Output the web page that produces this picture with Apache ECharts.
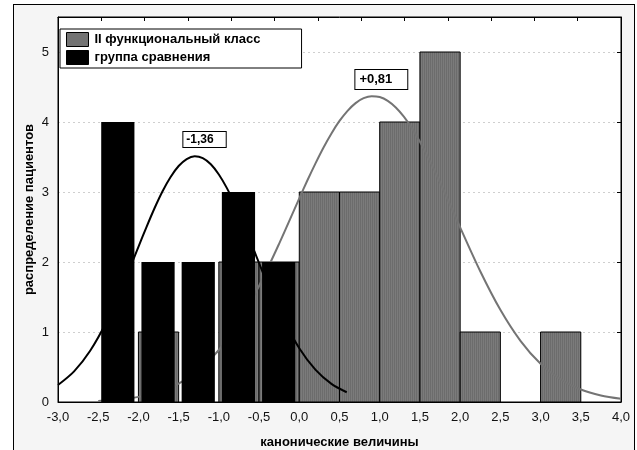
<!DOCTYPE html>
<html>
<head>
<meta charset="utf-8">
<script src="https://cdn.jsdelivr.net/npm/echarts@6/dist/echarts.min.js"></script>
<style>
  html, body { margin: 0; padding: 0; background: #ffffff; width: 637px; height: 450px; overflow: hidden; }
  #frame { position: absolute; left: 13px; top: 4px; width: 622px; height: 446px;
           border: 1px solid #000; border-bottom: none; background: #f5f5f5; box-sizing: border-box; }
  #chart { position: absolute; left: 0; top: 0; width: 637px; height: 450px; }
</style>
</head>
<body>
<div id="frame"></div>
<div id="chart"></div>
<script>
// Histogram bins (left edge of each 0.5-wide bin) and patient counts
const binWidth = 0.5;
const classIIBins = [-2.0, -1.0, -0.5, 0.0, 0.5, 1.0, 1.5, 2.0, 3.0];
const classIICounts = [1, 2, 2, 3, 3, 4, 5, 1, 1];
const compBins = [-2.5, -2.0, -1.5, -1.0, -0.5];
const compCounts = [4, 2, 2, 3, 2];

// Fitted normal curves (expected counts per bin)
const classIICurveX = [-2.5, -2.25, -2.0, -1.75, -1.5, -1.25, -1.0, -0.75, -0.5, -0.25,
                       0.0, 0.1, 0.2, 0.3, 0.4, 0.5, 0.6, 0.7, 0.8, 0.9, 1.0, 1.1, 1.2, 1.3, 1.4, 1.5, 1.6,
                       1.75, 2.0, 2.25, 2.5, 2.75, 3.0, 3.25, 3.5, 3.75, 4.0];
const classIICurveY = [0.016, 0.035, 0.073, 0.142, 0.262, 0.455, 0.743, 1.144, 1.658, 2.263,
                       2.910, 3.164, 3.406, 3.633, 3.837, 4.015, 4.160, 4.270, 4.340, 4.369, 4.357, 4.303, 4.208, 4.077, 3.912, 3.718, 3.499,
                       3.139, 2.495, 1.868, 1.317, 0.874, 0.546, 0.322, 0.178, 0.093, 0.046];
const compCurveX = [-3.0, -2.8, -2.6, -2.4, -2.2, -2.0, -1.9, -1.8, -1.7, -1.6, -1.5, -1.4, -1.3, -1.2, -1.1,
                    -1.0, -0.9, -0.8, -0.7, -0.6, -0.4, -0.2, 0.0, 0.2, 0.4, 0.59];
const compCurveY = [0.243, 0.438, 0.733, 1.140, 1.648, 2.216, 2.499, 2.768, 3.011, 3.215, 3.371, 3.471, 3.510, 3.484, 3.396,
                    3.250, 3.055, 2.819, 2.554, 2.273, 1.703, 1.186, 0.768, 0.462, 0.259, 0.139];

// Group means shown on the chart
const classIIMean = '+0,81';
const compMean = '-1,36';

const seriesNames = ['II функциональный класс', 'группа сравнения'];
const xTitle = 'канонические величины';
const yTitle = 'распределение пациентов';

function zip(a, b) { return a.map((v, i) => [v, b[i]]); }

// Fine vertical hatch used for the grey bars
function hatch() {
  const c = document.createElement('canvas');
  c.width = 2; c.height = 4;
  const g = c.getContext('2d');
  g.fillStyle = '#6c6c6c'; g.fillRect(0, 0, 1, 4);
  g.fillStyle = '#7b7b7b'; g.fillRect(1, 0, 1, 4);
  return { image: c, repeat: 'repeat' };
}
const greyFill = hatch();

function barRenderer(insetL, insetR) {
  return function (params, api) {
    const x0 = api.value(0), h = api.value(1);
    const pTop = api.coord([x0, h]);
    const pEnd = api.coord([x0 + binWidth, 0]);
    return {
      type: 'rect',
      shape: { x: pTop[0] + insetL, y: pTop[1], width: pEnd[0] - pTop[0] - insetL - insetR, height: pEnd[1] - pTop[1] },
      style: api.style()
    };
  };
}

const FONT = '"Liberation Sans", Arial, sans-serif';
const chart = echarts.init(document.getElementById('chart'), null, { renderer: 'canvas', width: 637, height: 450 });

chart.setOption({
  animation: false,
  textStyle: { fontFamily: FONT },
  grid: { left: 58, right: 16, top: 17, bottom: 48, containLabel: false, outerBoundsMode: 'none',
          show: true, backgroundColor: '#ffffff', borderColor: '#000', borderWidth: 1 },
  legend: {
    left: 60, top: 29, orient: 'vertical', selectedMode: false,
    backgroundColor: '#ffffff', borderColor: '#000', borderWidth: 1,
    padding: [3, 41, 3, 6], itemGap: 3, itemWidth: 22, itemHeight: 14,
    textStyle: { fontFamily: FONT, fontWeight: 'bold', fontSize: 13, color: '#000', padding: [0, 0, 0, 1] },
    data: [
      { name: seriesNames[0], icon: 'rect', itemStyle: { color: greyFill, borderColor: '#000', borderWidth: 1 } },
      { name: seriesNames[1], icon: 'rect', itemStyle: { color: '#000', borderColor: '#000', borderWidth: 1 } }
    ]
  },
  xAxis: [
    {
      type: 'value', position: 'bottom', min: -3, max: 4, interval: 0.5,
      axisLine: { onZero: false, lineStyle: { color: '#000', width: 1 } },
      axisTick: { show: false },
      splitLine: { show: false },
      axisLabel: { margin: 9, fontSize: 13, color: '#111', fontFamily: FONT,
                   formatter: v => v.toFixed(1).replace('.', ',') },
      name: xTitle, nameLocation: 'middle', nameGap: 34, nameMoveOverlap: false,
      nameTextStyle: { fontFamily: FONT, fontWeight: 'bold', fontSize: 13, color: '#000' }
    },
    {
      type: 'value', position: 'top', min: 0, max: 13, interval: 1,
      axisLine: { onZero: false, lineStyle: { color: '#000', width: 1 } },
      axisTick: { inside: true, length: 4, lineStyle: { color: '#000' } },
      axisLabel: { show: false }, splitLine: { show: false }
    }
  ],
  yAxis: [
    {
      type: 'value', position: 'left', min: 0, max: 5.5, interval: 1,
      axisLine: { show: true, onZero: false, lineStyle: { color: '#000', width: 1 } },
      axisTick: { show: false },
      axisLabel: { margin: 9, fontSize: 13, color: '#111', fontFamily: FONT, showMaxLabel: false },
      splitLine: { show: true, lineStyle: { color: '#cfcfcf', type: [2, 3], width: 1 } },
      name: yTitle, nameLocation: 'middle', nameGap: 22, nameMoveOverlap: false,
      nameTextStyle: { fontFamily: FONT, fontWeight: 'bold', fontSize: 13, color: '#000' }
    },
    {
      type: 'value', position: 'right', min: 0, max: 5.5, interval: 1,
      axisLine: { show: true, onZero: false, lineStyle: { color: '#000', width: 1 } },
      axisTick: { show: true, inside: true, length: 4, lineStyle: { color: '#000' } },
      axisLabel: { show: false }, splitLine: { show: false }
    }
  ],
  series: [
    {
      name: seriesNames[0], type: 'custom', z: 1,
      xAxisIndex: 0, yAxisIndex: 0,
      renderItem: barRenderer(0, 0),
      itemStyle: { color: greyFill, borderColor: '#000', borderWidth: 1 },
      encode: { x: 0, y: 1 },
      data: zip(classIIBins, classIICounts)
    },
    {
      type: 'line', z: 2, smooth: 0.3, symbol: 'none',
      xAxisIndex: 0, yAxisIndex: 0,
      lineStyle: { color: '#747474', width: 2 },
      data: zip(classIICurveX, classIICurveY),
      markPoint: {
        symbol: 'rect', symbolSize: 0,
        label: { show: true, position: 'inside', formatter: classIIMean,
                 fontFamily: FONT, fontWeight: 'bold', fontSize: 13, color: '#000',
                 backgroundColor: '#fff', borderColor: '#000', borderWidth: 1, padding: [3, 15, 3, 4] },
        data: [{ coord: [1.02, 4.607] }]
      }
    },
    {
      name: seriesNames[1], type: 'custom', z: 3,
      xAxisIndex: 0, yAxisIndex: 0,
      renderItem: barRenderer(3, 4),
      itemStyle: { color: '#000', borderColor: '#000', borderWidth: 0 },
      encode: { x: 0, y: 1 },
      data: zip(compBins, compCounts)
    },
    {
      type: 'line', z: 4, smooth: 0.3, symbol: 'none',
      xAxisIndex: 0, yAxisIndex: 0,
      lineStyle: { color: '#000', width: 2 },
      data: zip(compCurveX, compCurveY),
      markPoint: {
        symbol: 'rect', symbolSize: 0,
        label: { show: true, position: 'inside', formatter: compMean,
                 fontFamily: FONT, fontWeight: 'bold', fontSize: 12, color: '#000',
                 backgroundColor: '#fff', borderColor: '#000', borderWidth: 1, padding: [2, 12, 1, 3] },
        data: [{ coord: [-1.178, 3.75] }]
      }
    }
  ]
});
</script>
</body>
</html>
